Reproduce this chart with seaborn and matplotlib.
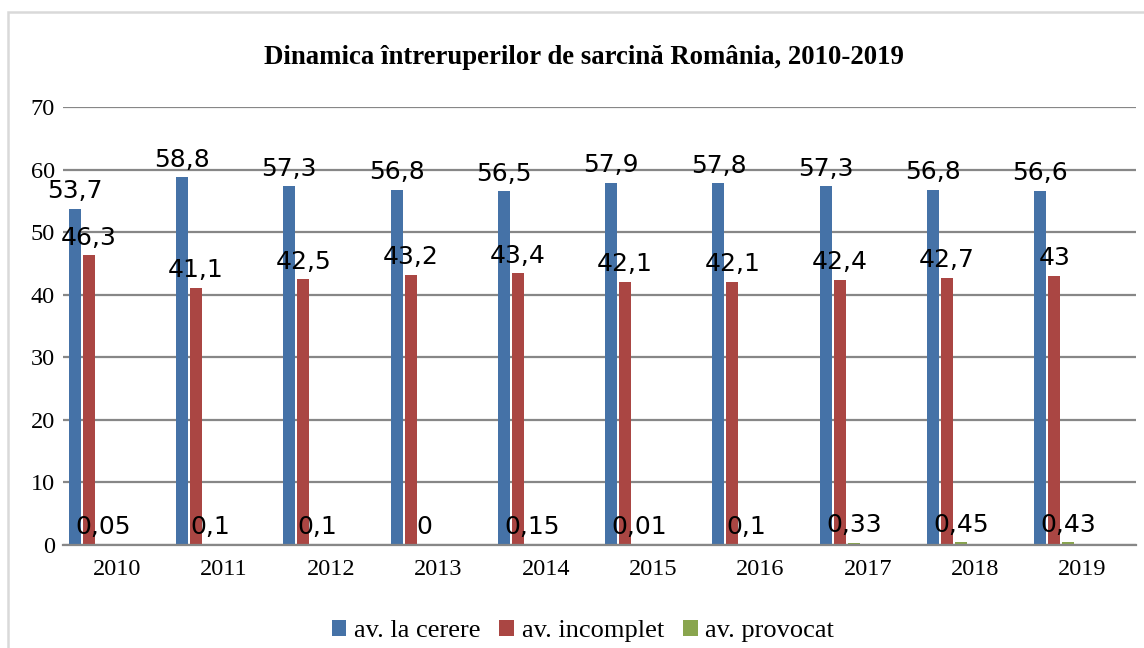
import matplotlib
matplotlib.use("Agg")
import matplotlib.pyplot as plt
import matplotlib.patches as mpatches
import pandas as pd
import seaborn as sns

# date
years = ["2010", "2011", "2012", "2013", "2014", "2015", "2016", "2017", "2018", "2019"]
series = ["av. la cerere", "av. incomplet", "av. provocat"]
la_cerere = [53.7, 58.8, 57.3, 56.8, 56.5, 57.9, 57.8, 57.3, 56.8, 56.6]
incomplet = [46.3, 41.1, 42.5, 43.2, 43.4, 42.1, 42.1, 42.4, 42.7, 43]
provocat = [0.05, 0.1, 0.1, 0, 0.15, 0.01, 0.1, 0.33, 0.45, 0.43]
colors = ["#4572A7", "#AA4643", "#89A54E"]

# excel lasa loc pentru serii goale, de aceea barele stau in stanga categoriei
empty_slots = ["_e1", "_e2", "_e3", "_e4"]

df = pd.DataFrame({
    "an": years * 3,
    "serie": [s for s in series for _ in years],
    "valoare": la_cerere + incomplet + provocat,
})

sns.set_theme(style="white")
plt.rcParams["font.family"] = ["Liberation Serif", "DejaVu Serif"]
plt.rcParams["text.color"] = "black"

fig = plt.figure(figsize=(11.44, 6.48), dpi=100)
ax = fig.add_axes([63 / 1144, 1 - 545 / 648, (1136 - 63) / 1144, (545 - 107) / 648])

sns.barplot(data=df, x="an", y="valoare", hue="serie", order=years,
            hue_order=series + empty_slots, palette=colors + ["white"] * 4,
            saturation=1, width=0.913, gap=0.143, errorbar=None, legend=False,
            linewidth=0, ax=ax)

def fmt_ro(v):
    return f"{v:g}".replace(".", ",")

# primele 3 containere = seriile cu date, in ordinea hue_order
handles = list(ax.containers[:3])
for cont in handles:
    ax.bar_label(cont, fmt=fmt_ro, padding=4, fontsize=18,
                 family="DejaVu Sans", color="black")

ax.set_ylim(0, 70)
ax.set_yticks(range(0, 71, 10))
ax.set_xlabel("")
ax.set_ylabel("")
ax.yaxis.grid(True, color="#878787", lw=1.6)
ax.set_axisbelow(True)
for side in ["left", "right", "top"]:
    ax.spines[side].set_visible(False)
ax.spines["bottom"].set_color("#878787")
ax.spines["bottom"].set_linewidth(1.6)
ax.tick_params(axis="both", length=0, labelsize=17.5, colors="black")
ax.tick_params(axis="y", pad=6)
ax.tick_params(axis="x", pad=10)

fig.text(584 / 1144, 1 - 58 / 648,
         "Dinamica întreruperilor de sarcină România, 2010-2019",
         ha="center", va="center", fontsize=19.3, fontweight="bold", color="black")

fig.legend(handles, series, loc="center", bbox_to_anchor=(583 / 1144, 1 - 631 / 648),
           ncol=3, frameon=False, fontsize=19, handlelength=0.56, handleheight=0.56,
           handletextpad=0.3, columnspacing=0.7, borderpad=0)

# chenarul gri al graficului
fig.patches.append(mpatches.Rectangle((8 / 1144, -0.1), 1.2, 1 - 12 / 648 + 0.1,
                                      transform=fig.transFigure, fill=False,
                                      edgecolor="#d9d9d9", lw=1.8, clip_on=False))

fig.savefig("out.png", dpi=100)
